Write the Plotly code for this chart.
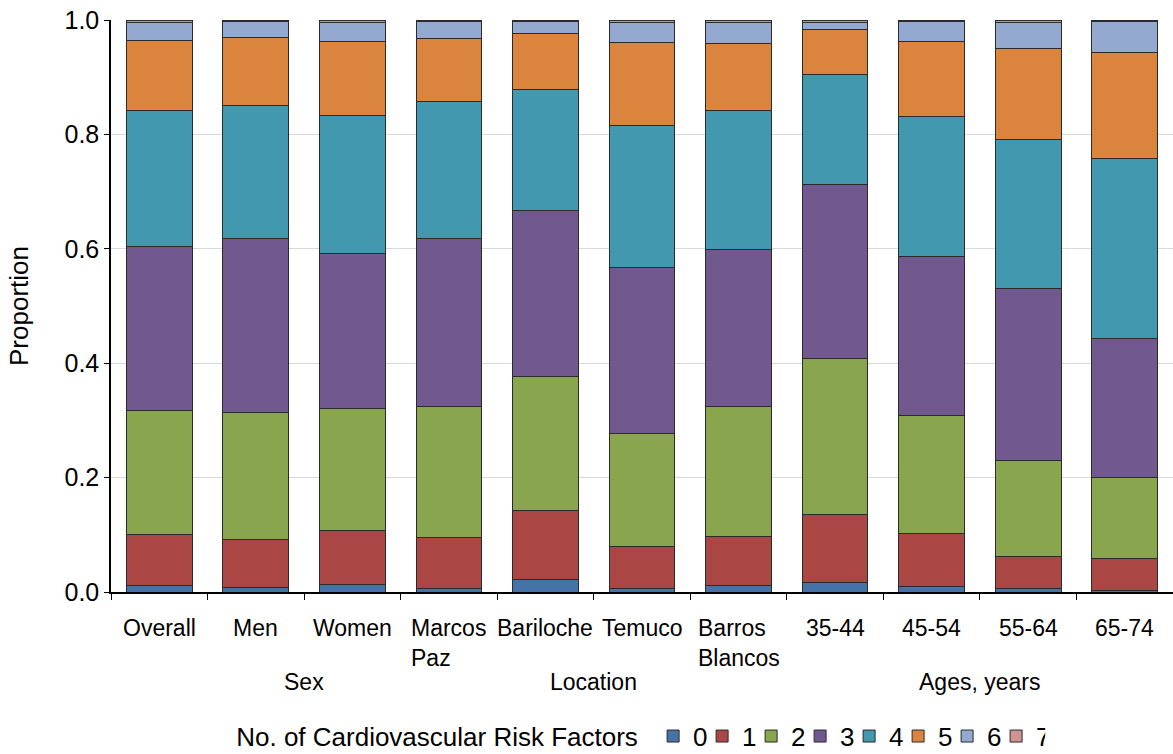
import plotly.graph_objects as go

# ---------------- data ----------------
categories = ["Overall", "Men", "Women", "Marcos Paz", "Bariloche", "Temuco",
              "Barros Blancos", "35-44", "45-54", "55-64", "65-74"]
tick_labels = ["Overall", "Men", "Women", "Marcos<br>Paz", "Bariloche", "Temuco",
               "Barros<br>Blancos", "35-44", "45-54", "55-64", "65-74"]
group_names = ["Sex", "Location", "Ages, years"]
group_members = [["Men", "Women"],
                 ["Marcos Paz", "Bariloche", "Temuco", "Barros Blancos"],
                 ["35-44", "45-54", "55-64", "65-74"]]

risk_levels = ["0", "1", "2", "3", "4", "5", "6", "7"]
rf0 = [0.012, 0.008, 0.013, 0.006, 0.022, 0.006, 0.012, 0.016, 0.010, 0.007, 0.003]
rf1 = [0.089, 0.083, 0.094, 0.089, 0.121, 0.073, 0.085, 0.119, 0.092, 0.055, 0.055]
rf2 = [0.216, 0.223, 0.213, 0.229, 0.234, 0.198, 0.227, 0.274, 0.206, 0.168, 0.142]
rf3 = [0.287, 0.304, 0.271, 0.294, 0.290, 0.290, 0.274, 0.303, 0.278, 0.301, 0.244]
rf4 = [0.238, 0.233, 0.242, 0.239, 0.212, 0.249, 0.244, 0.192, 0.246, 0.260, 0.314]
rf5 = [0.123, 0.118, 0.129, 0.110, 0.097, 0.145, 0.117, 0.079, 0.131, 0.159, 0.185]
rf6 = [0.031, 0.029, 0.034, 0.031, 0.022, 0.034, 0.036, 0.013, 0.035, 0.046, 0.054]
rf7 = [0.004, 0.002, 0.004, 0.002, 0.002, 0.005, 0.005, 0.004, 0.002, 0.004, 0.003]
series = [rf0, rf1, rf2, rf3, rf4, rf5, rf6, rf7]

y_ticks = [0.0, 0.2, 0.4, 0.6, 0.8, 1.0]

colors = ["#4572A7", "#AA4643", "#89A54E", "#71588F",
          "#4198AF", "#DB843D", "#93A9CF", "#D19392"]

FONT = "Liberation Sans, Arial, sans-serif"
FS_X = 23
FS_Y = 25
FS_LEG = 26

fig = go.Figure()
for name, vals, col in zip(risk_levels, series, colors):
    fig.add_trace(go.Bar(
        x=categories, y=vals, name=name, width=0.68,
        marker=dict(color=col, line=dict(color="#2b2b2b", width=1)),
        hoverinfo="x+y+name",
    ))

# category labels (left-aligned lines, centred box like the original)
for cat, lab in zip(categories, tick_labels):
    fig.add_annotation(x=cat, xref="x", y=-0.036, yref="paper",
                       text=lab, showarrow=False, align="left",
                       xanchor="center", yanchor="top",
                       font=dict(family=FONT, size=FS_X, color="black"))

# group labels
for gname, members in zip(group_names, group_members):
    idx = [categories.index(m) for m in members]
    fig.add_annotation(x=sum(idx) / len(idx), xref="x", y=-0.158, yref="paper",
                       text=gname, showarrow=False,
                       xanchor="center", yanchor="middle",
                       font=dict(family=FONT, size=FS_X, color="black"))

fig.update_layout(
    width=1173, height=754,
    barmode="stack", bargap=0.32,
    paper_bgcolor="white", plot_bgcolor="white",
    margin=dict(l=111, r=0, t=20, b=161.5, autoexpand=False),
    font=dict(family=FONT, size=FS_Y, color="black"),
    showlegend=True,
    legend=dict(
        orientation="h", x=0.116, xanchor="left", y=-0.252, yanchor="middle",
        title=dict(text="No. of Cardiovascular Risk Factors ", side="left",
                   font=dict(family=FONT, size=FS_LEG)),
        font=dict(family=FONT, size=FS_LEG), traceorder="normal",
        entrywidth=4, entrywidthmode="pixels",
        bgcolor="rgba(0,0,0,0)",
    ),
    xaxis=dict(
        type="category", range=[-0.5, len(categories) - 0.5],
        showticklabels=False, tickson="boundaries", ticks="outside",
        ticklen=6, tickcolor="black", tickwidth=1.2,
        showline=True, linecolor="black", linewidth=1.5,
        showgrid=False, zeroline=False, fixedrange=True, automargin=False,
    ),
    yaxis=dict(
        range=[0, 1], tickvals=y_ticks, tickformat=".1f",
        ticks="outside", ticklen=5, tickcolor="black", tickwidth=1.2,
        showline=True, linecolor="black", linewidth=1.5,
        showgrid=True, gridcolor="#d9d9d9", gridwidth=1.2, zeroline=False,
        tickfont=dict(family=FONT, size=FS_Y), ticklabeloverflow="allow",
        title=dict(text="Proportion", standoff=28,
                   font=dict(family=FONT, size=FS_LEG)),
        fixedrange=True, automargin=False,
    ),
)

# remove the default page margin so the figure fills the window exactly
fig.write_html(
    "out.html",
    config={"displayModeBar": False},
    post_script="document.body.style.margin='0';document.body.style.padding='0';",
)
